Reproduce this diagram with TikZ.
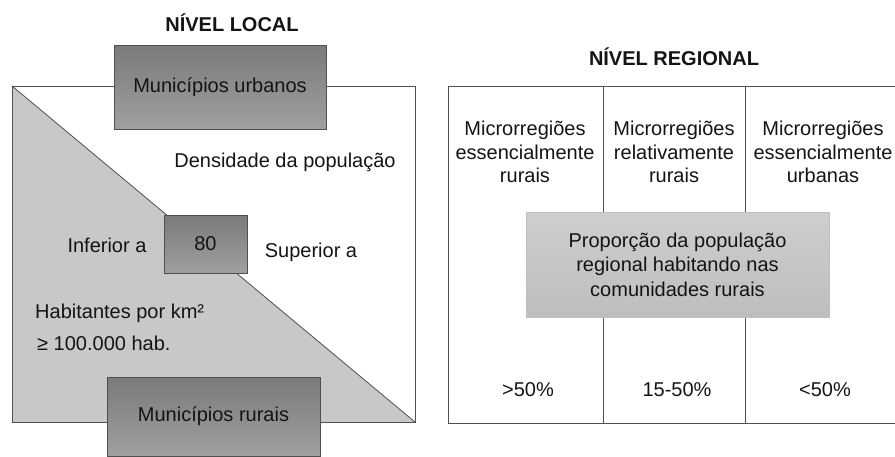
\documentclass[tikz,border=0pt]{standalone}
\usepackage{fontspec}
\setmainfont{Liberation Sans}
\usetikzlibrary{positioning,calc}
\definecolor{grisTrait}{RGB}{80,80,80}
\definecolor{grisFonceHaut}{RGB}{122,122,122}
\definecolor{grisFonceBas}{RGB}{160,160,160}
\definecolor{grisClair}{RGB}{200,200,200}
\definecolor{grisPropHaut}{RGB}{206,206,206}
\definecolor{grisPropBas}{RGB}{190,190,190}
\definecolor{texte}{RGB}{20,20,20}

\begin{document}
\begin{tikzpicture}[x=1pt,y=-1pt,
  font=\fontsize{20}{23.5}\selectfont,text=texte,
  b/.style={rectangle,draw=grisTrait,line width=0.8pt,top color=grisFonceHaut,
            bottom color=grisFonceBas,inner sep=0pt},
  t/.style={inner sep=0pt},
  tt/.style={inner sep=0pt,font=\bfseries\fontsize{20}{24}\selectfont},
  f/.style={grisTrait,line width=1pt}]

  \useasboundingbox (0,0) rectangle (895,456);

  % niveau local
  \node[tt] (tl) at (232,23) {NÍVEL LOCAL};
  \coordinate (lhg) at (12,86);   \coordinate (lhd) at (415,86);
  \coordinate (lbg) at (12,422);  \coordinate (lbd) at (415,422);
  \fill[grisClair] (lhg) -- (lbd) -- (lbg) -- cycle;
  \draw[f] (lhg) rectangle (lbd);
  \draw[f,line width=0.8pt] (lhg) -- (lbd);

  \node[b,minimum width=212,minimum height=84] (urb) at (220,87) {Municípios urbanos};
  \node[b,minimum width=83,minimum height=58] (dens80) at (205.5,244) {80};
  \node[b,minimum width=213,minimum height=79] (rur) at (213.5,416.5) {Municípios rurais};

  \node[t] (dens) at (285,162) {Densidade da população};
  \node[t] (inf) at (107,245) {Inferior a};
  \node[t] (sup) at (311,252) {Superior a};
  \node[t,anchor=west] (hab) at (35,313) {Habitantes por km²};
  \node[t,anchor=west] (cent) at (37,343) {≥ 100.000 hab.};

  % niveau regional
  \node[tt] (tr) at (674,57) {NÍVEL REGIONAL};
  \coordinate (rhg) at (448,86);  \coordinate (rhd) at (895,86);
  \coordinate (rbg) at (448,423); \coordinate (rbd) at (895,423);
  \draw[f] (rhd) -- (rhg) -- (rbg) -- (rbd);
  \draw[f] (603,86) -- (603,423);
  \draw[f] (745,86) -- (745,423);

  \node[rectangle,draw=grisPropBas,top color=grisPropHaut,bottom color=grisPropBas,
        minimum width=303,minimum height=105,align=center,
        font=\fontsize{20}{24.5}\selectfont] (prop) at (677.5,264.5)
        {Proporção da população\\regional habitando nas\\comunidades rurais};

  \node[t,align=center] (c1) at (525,152)
        {Microrregiões\\essencialmente\\rurais};
  \node[t,align=center] (c2) at (674,152)
        {Microrregiões\\relativamente\\rurais};
  \node[t,align=center] (c3) at (823,152)
        {Microrregiões\\essencialmente\\urbanas};

  \node[t] (p1) at (528,390) {>50\%};
  \node[t] (p2) at (677,390) {15-50\%};
  \node[t] (p3) at (825,390) {<50\%};
\end{tikzpicture}
\end{document}
